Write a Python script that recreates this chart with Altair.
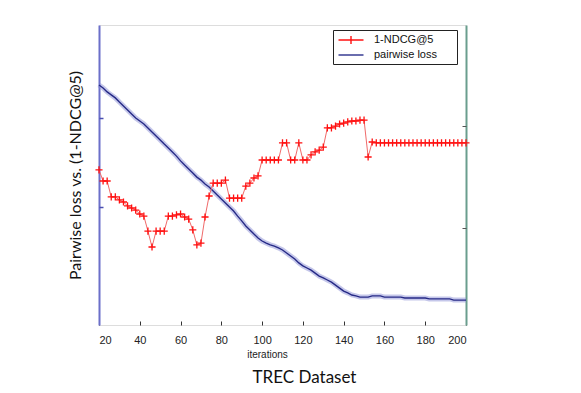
import altair as alt
import pandas as pd

iters = list(range(20, 201, 2))

pairwise_loss = [
    0.800, 0.790, 0.777, 0.767, 0.757, 0.743, 0.730, 0.717, 0.703, 0.690,
    0.680, 0.670, 0.657, 0.643, 0.630, 0.617, 0.603, 0.590, 0.577, 0.563,
    0.547, 0.533, 0.520, 0.507, 0.493, 0.483, 0.470, 0.460, 0.447, 0.433,
    0.420, 0.407, 0.393, 0.380, 0.363, 0.347, 0.330, 0.317, 0.303, 0.290,
    0.280, 0.273, 0.267, 0.263, 0.257, 0.250, 0.240, 0.230, 0.220, 0.207,
    0.197, 0.190, 0.183, 0.173, 0.163, 0.157, 0.150, 0.143, 0.133, 0.123,
    0.113, 0.107, 0.100, 0.097, 0.093, 0.093, 0.093, 0.097, 0.097, 0.097,
    0.093, 0.093, 0.093, 0.093, 0.093, 0.090, 0.090, 0.090, 0.090, 0.090,
    0.090, 0.087, 0.087, 0.087, 0.087, 0.087, 0.087, 0.083, 0.083, 0.083,
    0.083,
]

ndcg_loss = [
    0.517, 0.480, 0.480, 0.427, 0.427, 0.417, 0.410, 0.397, 0.390, 0.383,
    0.370, 0.363, 0.313, 0.260, 0.313, 0.313, 0.313, 0.363, 0.363, 0.367,
    0.370, 0.360, 0.353, 0.317, 0.267, 0.273, 0.360, 0.430, 0.473, 0.473,
    0.473, 0.483, 0.423, 0.423, 0.423, 0.423, 0.463, 0.473, 0.490, 0.497,
    0.550, 0.550, 0.550, 0.550, 0.550, 0.607, 0.607, 0.550, 0.550, 0.607,
    0.550, 0.550, 0.567, 0.577, 0.583, 0.593, 0.657, 0.657, 0.663, 0.670,
    0.673, 0.677, 0.680, 0.680, 0.683, 0.683, 0.560, 0.610, 0.607, 0.607,
    0.607, 0.607, 0.607, 0.607, 0.607, 0.607, 0.607, 0.607, 0.607, 0.607,
    0.607, 0.607, 0.607, 0.607, 0.607, 0.607, 0.607, 0.607, 0.607, 0.607,
    0.607,
]

x_ticks = [20, 40, 60, 80, 100, 120, 140, 160, 180, 200]
left_ticks = [0.393, 0.69]
right_ticks = [0.323, 0.663]
series_names = ["1-NDCG@5", "pairwise loss"]
series_colors = ["#ff1010", "#2a2e8c"]

blue_df = pd.DataFrame({"iteration": iters, "value": pairwise_loss})
red_df = pd.DataFrame({"iteration": iters, "value": ndcg_loss})
legend_df = pd.DataFrame({"series": series_names, "iteration": [20, 20], "value": [0.5, 0.5]})

W, H = 367, 300
xscale = alt.Scale(domain=[20, 200], nice=False, zero=False)
yscale = alt.Scale(domain=[0, 1], nice=False)
LBL = "Liberation Sans"
TTL = "Lato"

blue_halo = alt.Chart(blue_df).mark_line(color="#8c8fd6", strokeWidth=5, opacity=0.5).encode(
    x=alt.X("iteration:Q", scale=xscale, axis=alt.Axis(
        orient="bottom", values=x_ticks, ticks=False, domain=False, grid=False,
        labelPadding=9, labelFont=LBL, labelFontSize=11, labelColor="#222",
        title="iterations", titleFont=LBL, titleFontSize=10, titleFontWeight="normal",
        titleColor="#222", titlePadding=4, titleX=168)),
    y=alt.Y("value:Q", scale=yscale, axis=alt.Axis(
        orient="left", ticks=False, labels=False, grid=False,
        domainColor="#6b6fc9", domainWidth=2,
        title="Pairwise loss vs. (1-NDCG@5)", titleFont=TTL, titleFontSize=16,
        titleFontWeight="normal", titleColor="#111", titlePadding=16)),
)
blue_core = alt.Chart(blue_df).mark_line(color="#262a86", strokeWidth=1.4).encode(
    x=alt.X("iteration:Q", scale=xscale, axis=alt.Axis(
        orient="top", offset=-H, values=x_ticks, labels=False, domain=False, grid=False,
        tickSize=4, tickColor="#333", title=None)),
    y=alt.Y("value:Q", scale=yscale, axis=alt.Axis(
        orient="right", offset=-W, values=left_ticks, labels=False, domain=False, grid=False,
        tickSize=4, tickColor="#4a4fb0", tickWidth=1.5, title=None)),
)
blue = alt.layer(blue_halo, blue_core)

red_line = alt.Chart(red_df).mark_line(color="#f06a6a", strokeWidth=1).encode(
    x=alt.X("iteration:Q", scale=xscale, axis=alt.Axis(
        orient="bottom", offset=-H, values=x_ticks, labels=False, domain=False, grid=False,
        tickSize=4, tickColor="#333", title=None)),
    y=alt.Y("value:Q", scale=yscale, axis=alt.Axis(
        orient="right", ticks=False, labels=False, grid=False,
        domainColor="#6a9e8e", domainWidth=2, title=None)),
)
red_pts = alt.Chart(red_df).mark_point(
    shape="M-1,0H1M0,-1V1", filled=False, color="#ff1010", strokeWidth=1.3, size=50, opacity=1
).encode(
    x=alt.X("iteration:Q", scale=xscale, axis=None),
    y=alt.Y("value:Q", scale=yscale, axis=alt.Axis(
        orient="left", offset=-W, values=right_ticks, labels=False, domain=False, grid=False,
        tickSize=4, tickColor="#555", title=None)),
)
red = alt.layer(red_line, red_pts)

legend_layer = alt.Chart(legend_df).mark_point(filled=False, opacity=0).encode(
    x=alt.X("iteration:Q", scale=xscale, axis=None),
    y=alt.Y("value:Q", scale=yscale, axis=None),
    color=alt.Color("series:N", scale=alt.Scale(domain=series_names, range=series_colors),
                    legend=alt.Legend(
                        title=None, orient="none", legendX=234, legendY=5,
                        strokeColor="#222", fillColor="white", padding=4,
                        labelFont=LBL, labelFontSize=11, labelColor="#111",
                        symbolSize=100, symbolStrokeWidth=1.4, symbolOpacity=1,
                        symbolOffset=8, rowPadding=2, labelOffset=17,
                        labelExpr="datum.label + '\u2800\u2800'")),
    shape=alt.Shape("series:N", scale=alt.Scale(
        domain=series_names,
        range=["M-2.5,0H2.5M0,-0.8V0.8", "M-2.5,0H2.5"]), legend=None),
)

chart = alt.layer(blue, red, legend_layer).resolve_scale(y="independent").properties(
    width=W, height=H,
    autosize=alt.AutoSizeParams(type="none"),
    padding={"left": 91, "top": 17, "right": 100, "bottom": 72},
    title=alt.TitleParams("TREC Dataset", orient="bottom", anchor="middle", dx=22,
                          offset=11, font=TTL, fontSize=17, fontWeight="normal", color="#111"),
).configure_view(stroke="#222", strokeWidth=1).configure(background="white")

chart.save("out.html", embed_options={"renderer": "svg", "actions": False})
